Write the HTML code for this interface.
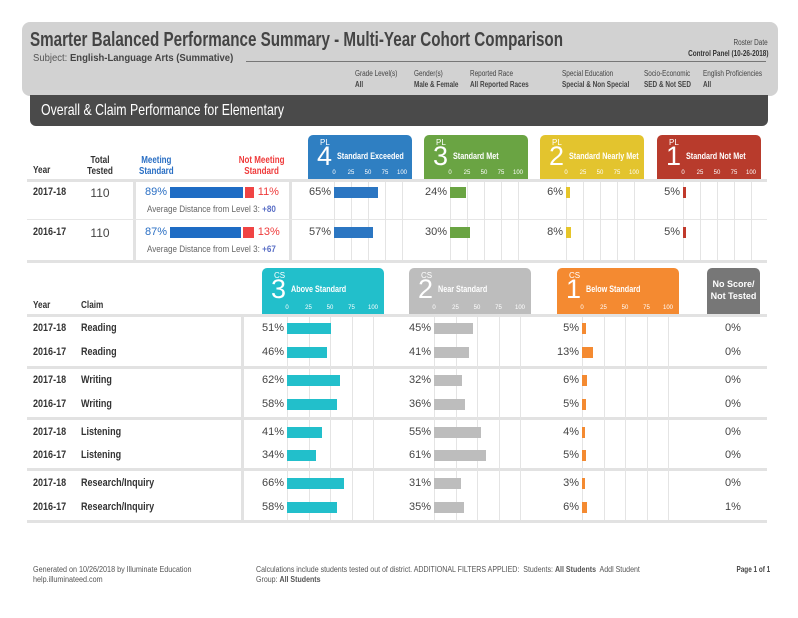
<!DOCTYPE html>
<html><head><meta charset="utf-8">
<style>
*{margin:0;padding:0;box-sizing:border-box}
body{width:798px;height:618px;background:#fff;position:relative;overflow:hidden;font-family:"Liberation Sans",sans-serif;color:#333}
.a{position:absolute;white-space:nowrap}
.b{font-weight:bold}
.c{transform:scaleX(.8);transform-origin:0 0}
.cr{transform:scaleX(.8);transform-origin:100% 0}
.hdr{left:22px;top:22px;width:756px;height:74px;background:#d2d2d2;border-radius:8px}
.dark{left:30px;top:95px;width:738px;height:31px;background:#4a4a4a;border-radius:0 0 6px 6px}
.box{border-radius:5px 5px 0 0;color:#fff}
.box .pl{position:absolute;left:12px;top:3px;font-size:8px}
.box .num{position:absolute;left:9px;top:6px;font-size:27px;font-weight:300}
.box .lab{position:absolute;left:29px;top:16px;font-size:9px;font-weight:bold;transform:scaleX(.8);transform-origin:0 0}
.tick{position:absolute;font-size:6px;color:#fff;transform:translateX(-50%)}
.pct{font-size:11px;color:#444;text-align:right;width:40px}
.row{font-size:11px;font-weight:bold;color:#333;transform:scaleX(.82);transform-origin:0 0}
</style></head><body>
<div class="a hdr"></div>
<div class="a b" style="left:30px;top:29px;font-size:20px;color:#444;transform:scaleX(.76);transform-origin:0 0">Smarter Balanced Performance Summary - Multi-Year Cohort Comparison</div>
<div class="a" style="left:33px;top:53px;font-size:10px;color:#555;transform:scaleX(.95);transform-origin:0 0">Subject: <b style="color:#444">English-Language Arts (Summative)</b></div>
<div class="a cr" style="right:30px;top:38px;font-size:8px;color:#444">Roster Date</div>
<div class="a b cr" style="right:30px;top:49px;font-size:8px;color:#333">Control Panel (10-26-2018)</div>
<div class="a" style="left:246px;top:61px;width:520px;height:1px;background:#777"></div>
<div class="a c" style="left:355px;top:68px;font-size:8px;line-height:11px;color:#444">Grade Level(s)<br><b>All</b></div>
<div class="a c" style="left:414px;top:68px;font-size:8px;line-height:11px;color:#444">Gender(s)<br><b>Male &amp; Female</b></div>
<div class="a c" style="left:470px;top:68px;font-size:8px;line-height:11px;color:#444">Reported Race<br><b>All Reported Races</b></div>
<div class="a c" style="left:562px;top:68px;font-size:8px;line-height:11px;color:#444">Special Education<br><b>Special &amp; Non Special</b></div>
<div class="a c" style="left:644px;top:68px;font-size:8px;line-height:11px;color:#444">Socio-Economic<br><b>SED &amp; Not SED</b></div>
<div class="a c" style="left:703px;top:68px;font-size:8px;line-height:11px;color:#444">English Proficiencies<br><b>All</b></div>
<div class="a dark"></div>
<div class="a" style="left:41px;top:102px;font-size:16px;color:#fff;transform:scaleX(.77);transform-origin:0 0">Overall &amp; Claim Performance for Elementary</div>

<div class="a row" style="left:33px;top:165px;font-size:10px">Year</div>
<div class="a b" style="left:80px;top:155px;font-size:10px;text-align:center;width:40px;line-height:11px;transform:scaleX(.82)">Total<br>Tested</div>
<div class="a b c" style="left:139px;top:155px;font-size:10px;line-height:11px;color:#2a6fc4;text-align:center">Meeting<br>Standard</div>
<div class="a b cr" style="left:222px;top:155px;font-size:10px;line-height:11px;color:#ef3b3b;text-align:center;width:66px">Not Meeting<br>Standard</div>

<div class="a" style="left:133px;top:180px;width:3px;height:82px;background:#e2e2e2"></div>
<div class="a" style="left:289px;top:180px;width:3px;height:82px;background:#e2e2e2"></div>
<div class="a" style="left:27px;top:219px;width:740px;height:1px;background:#e6e6e6"></div>

<div id="g"></div>

<div class="a" style="left:33px;top:565px;font-size:8px;line-height:10px;color:#555;transform:scaleX(.9);transform-origin:0 0">Generated on 10/26/2018 by Illuminate Education<br>help.illuminateed.com</div>
<div class="a" style="left:256px;top:565px;font-size:8px;line-height:10px;color:#555;transform:scaleX(.88);transform-origin:0 0">Calculations include students tested out of district. ADDITIONAL FILTERS APPLIED:&nbsp; Students: <b>All Students</b>&nbsp; Addl Student<br>Group: <b>All Students</b></div>
<div class="a b cr" style="right:28px;top:565px;font-size:8px;color:#444">Page 1 of 1</div>

<script>
// ---- top table data ----
var topYears = ['2017-18','2016-17'];
var topTested = [110,110];
var meetingPct = [89,87];
var notMeetingPct = [11,13];
var avgDistance = ['+80','+67'];
var plLevels = ['4','3','2','1'];
var plLabels = ['Standard Exceeded','Standard Met','Standard Nearly Met','Standard Not Met'];
var plValues = [[65,57],[24,30],[6,8],[5,5]];
// ---- claim table data ----
var claimYears = ['2017-18','2016-17','2017-18','2016-17','2017-18','2016-17','2017-18','2016-17'];
var claimNames = ['Reading','Reading','Writing','Writing','Listening','Listening','Research/Inquiry','Research/Inquiry'];
var csLevels = ['3','2','1'];
var csLabels = ['Above Standard','Near Standard','Below Standard'];
var csAbove = [51,46,62,58,41,34,66,58];
var csNear = [45,41,32,36,55,61,31,35];
var csBelow = [5,13,6,5,4,5,3,6];
var noScore = [0,0,0,0,0,0,0,1];
var tickLabels = ['0','25','50','75','100'];

var g = document.getElementById('g');
function el(css, cls, html){
  var d=document.createElement('div');
  d.className='a '+(cls||'');
  d.style.cssText=css;
  if(html!==undefined) d.innerHTML=html;
  g.appendChild(d);
  return d;
}
var t1=el('left:27px;top:179px;width:740px;height:3px;background:#e2e2e2');


var t2=el('left:27px;top:260px;width:740px;height:3px;background:#e2e2e2');



var plColors=['#2f7fc2','#6aa443','#e3c42e','#b83b2c'];
var plBars=['#2b76c2','#6aa443','#e6c52a','#c0392b'];
var plBox=[308,424,540,657];
function xScale(zero,width,v){return zero+v*width/100;}

plLevels.forEach(function(lv,i){
  var bx=plBox[i], zero=bx+26, w=68;
  var b=el('left:'+bx+'px;top:135px;width:104px;height:44px;background:'+plColors[i],'box',
    '<div class="pl">PL</div><div class="num">'+lv+'</div><div class="lab">'+plLabels[i]+'</div>');
  
  
  tickLabels.forEach(function(t,k){
    var tx=el('left:'+(xScale(zero,w,k*25)-bx)+'px;top:35px','tick',t);
    b.appendChild(tx);
    
    
    var gl=el('left:'+Math.round(xScale(zero,w,k*25))+'px;top:182px;width:1px;height:78px;background:#e4e4e4');
    
    
  });
  plValues[i].forEach(function(v,r){
    var y=186+r*40;
    var p=el('left:'+(zero-43)+'px;top:'+y+'px','pct',v+'%');
    
    
    var bar=el('left:'+zero+'px;top:'+(y+1)+'px;height:11px;width:'+Math.max(2,v*w/100)+'px;background:'+plBars[i]);
    
    
  });
});

topYears.forEach(function(yr,r){
  var y=186+r*40;
  var a=el('left:33px;top:'+y+'px','row',yr);
  
  
  var b=el('left:80px;top:'+y+'px;width:40px;text-align:center;font-size:12px;color:#444','',topTested[r]);
  
  
  var m=el('left:127px;top:'+y+'px;color:#2a6fc4','pct',meetingPct[r]+'%');
  
  
  var mw=meetingPct[r]*0.82;
  var mb=el('left:170px;top:'+(y+1)+'px;height:11px;width:'+mw+'px;background:#1e6cc4');
  
  
  var nw=notMeetingPct[r]*0.8;
  var nb=el('left:'+(172+mw)+'px;top:'+(y+1)+'px;height:11px;width:'+nw+'px;background:#f04444');
  
  
  var nt=el('left:'+(176+mw+nw)+'px;top:'+y+'px;font-size:11px;color:#ef3b3b','',notMeetingPct[r]+'%');
  
  
  var ad=el('left:147px;top:'+(y+18)+'px;font-size:9px;color:#666;transform:scaleX(.9);transform-origin:0 0','','Average Distance from Level 3: <b style="color:#5a6fc6">'+avgDistance[r]+'</b>');
  
  
});

var h1=el('left:33px;top:300px;font-size:10px','row','Year');


var h2=el('left:81px;top:300px;font-size:10px','row','Claim');


var cl=el('left:27px;top:314px;width:740px;height:3px;background:#e2e2e2');


[366,417,468,520].forEach(function(y){
  var s=el('left:27px;top:'+y+'px;width:740px;height:3px;background:#e2e2e2');
  
  
});
var vd=el('left:241px;top:317px;width:3px;height:203px;background:#e2e2e2');



var csColors=['#22bfcb','#bdbdbd','#f48a31'];
var csBox=[262,409,557];
var csData=[csAbove,csNear,csBelow];
var rowY=[322,346,374,398,426,449,477,501];
csLevels.forEach(function(lv,i){
  var bx=csBox[i], zero=bx+25, w=86;
  var b=el('left:'+bx+'px;top:268px;width:122px;height:46px;background:'+csColors[i],'box',
    '<div class="pl">CS</div><div class="num">'+lv+'</div><div class="lab">'+csLabels[i]+'</div>');
  
  
  tickLabels.forEach(function(t,k){
    var tx=el('left:'+(xScale(zero,w,k*25)-bx)+'px;top:37px','tick',t);
    b.appendChild(tx);
    
    
    var gl=el('left:'+Math.round(xScale(zero,w,k*25))+'px;top:317px;width:1px;height:203px;background:#e4e4e4');
    
    
  });
  csData[i].forEach(function(v,r){
    var y=rowY[r];
    var p=el('left:'+(zero-43)+'px;top:'+y+'px','pct',v+'%');
    
    
    var bar=el('left:'+zero+'px;top:'+(y+1)+'px;height:11px;width:'+Math.max(2,v*w/100)+'px;background:'+csColors[i]);
    
    
  });
});
var ns=el('left:707px;top:268px;width:53px;height:46px;background:#777;border-radius:5px 5px 0 0;color:#fff;font-size:9px;font-weight:bold;text-align:center;line-height:12px;padding-top:10px','','No Score/<br>Not Tested');


claimYears.forEach(function(yr,r){
  var y=rowY[r];
  var a=el('left:33px;top:'+y+'px','row',yr);
  
  
  var c=el('left:81px;top:'+y+'px','row',claimNames[r]);
  
  
  var n=el('left:713px;top:'+y+'px;width:40px;text-align:center;font-size:11px;color:#444','',noScore[r]+'%');
  
  
});
</script>
</body></html>
